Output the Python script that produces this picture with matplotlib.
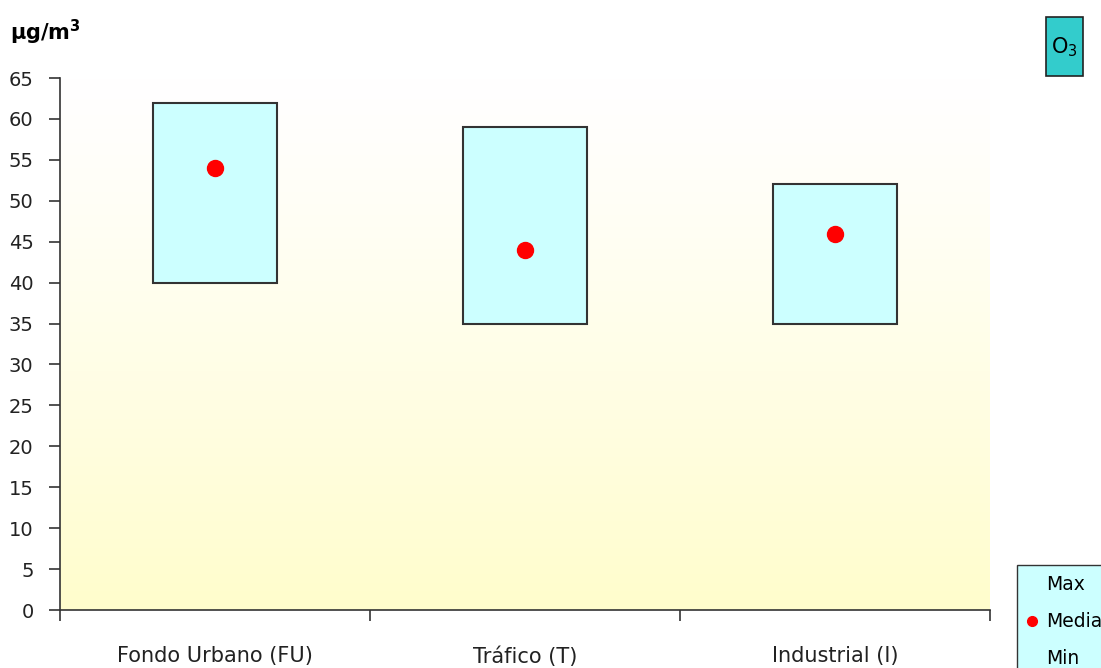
import numpy as np
import matplotlib
matplotlib.use("Agg")
import matplotlib.pyplot as plt
from matplotlib.lines import Line2D
from matplotlib.patches import Rectangle

categories = ["Fondo Urbano (FU)", "Tráfico (T)", "Industrial (I)"]
val_max = [62, 59, 52]
val_min = [40, 35, 35]
val_media = [54, 44, 46]
yticks = list(range(0, 70, 5))

plt.rcParams["font.family"] = ["DejaVu Sans"]

fig = plt.figure(figsize=(11.01, 6.68), dpi=100)
ax = fig.add_axes([60 / 1101, 1 - 610 / 668, 930 / 1101, 532 / 668])

# gradient background: white at top, pale yellow at bottom
grad = np.linspace(0, 1, 256).reshape(-1, 1)
top = np.array([1.0, 1.0, 1.0])
bot = np.array([1.0, 0.992, 0.80])
img = top + (bot - top) * grad[..., None] ** 1.2
img = img[::-1]
ax.imshow(img, extent=[0, 3, 0, 65], aspect="auto", origin="lower", zorder=0)

x = np.arange(len(categories)) + 0.5
heights = [a - b for a, b in zip(val_max, val_min)]
ax.bar(x, heights, width=0.4, bottom=val_min, color="#CCFFFF",
       edgecolor="#333333", linewidth=1.5, zorder=2)
ax.plot(x, val_media, "o", color="#FF0000", ms=11.5, zorder=3, linestyle="none")

ax.set_xlim(0, 3)
ax.set_ylim(0, 65)
ax.set_yticks(yticks)
ax.set_xticks([0, 1, 2, 3])
ax.set_xticklabels([])
ax.set_xticks(x, minor=True)
ax.set_xticklabels(categories, minor=True, fontsize=15, color="#222222")
ax.tick_params(axis="x", which="minor", length=0, pad=26)
ax.tick_params(axis="x", which="major", length=8, width=1.2, color="#333333")
ax.tick_params(axis="y", length=8, width=1.2, color="#333333", labelsize=14,
               pad=11, labelcolor="#222222")
for s in ["top", "right"]:
    ax.spines[s].set_visible(False)
for s in ["left", "bottom"]:
    ax.spines[s].set_color("#333333")
    ax.spines[s].set_linewidth(1.2)

fig.text(10 / 1101, 1 - 32 / 668, r"µg/m$^{\mathbf{3}}$", fontsize=15,
         fontweight="bold", va="center")

# pollutant tag
fig.patches.append(Rectangle((1046 / 1101, 1 - 76 / 668), 37 / 1101, 59 / 668,
                             transform=fig.transFigure, facecolor="#33CCCC",
                             edgecolor="#222222", linewidth=1.2))
fig.text(1064.5 / 1101, 1 - 47 / 668, r"O$_3$", fontsize=15, ha="center", va="center")

handles = [
    Line2D([], [], linestyle="none", marker=None),
    Line2D([], [], linestyle="none", marker="o", color="#FF0000", ms=7),
    Line2D([], [], linestyle="none", marker=None),
]
leg = fig.legend(handles, ["Max", "Media", "Min"], loc="upper left",
                 bbox_to_anchor=(1017 / 1101, 1 - 565 / 668), frameon=True,
                 fancybox=False, fontsize=13.5, handlelength=0.5, handletextpad=0.5,
                 labelspacing=0.95, borderpad=0.55, borderaxespad=0)
leg.get_frame().set_facecolor("#CCFFFF")
leg.get_frame().set_edgecolor("#333333")
leg.get_frame().set_alpha(1)

fig.savefig("out.png", dpi=100)
